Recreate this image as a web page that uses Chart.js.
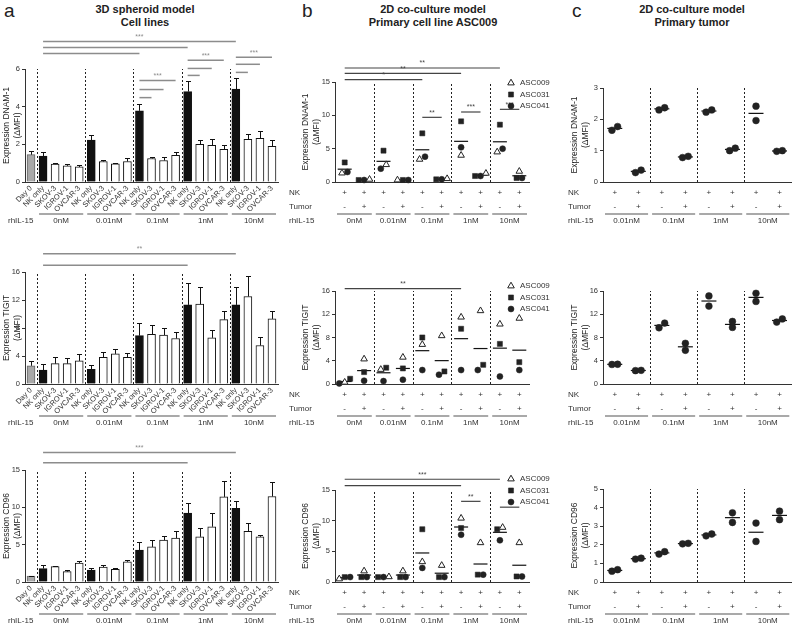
<!DOCTYPE html>
<html>
<head>
<meta charset="utf-8">
<title>DNAM-1, TIGIT and CD96 expression</title>
<script src="https://cdn.jsdelivr.net/npm/chart.js@4.4.1/dist/chart.umd.min.js"></script>
<style>
  body { margin: 0; background: #fff; }
  #fig { position: relative; width: 800px; height: 627px; overflow: hidden;
         font-family: "Liberation Sans", Arial, sans-serif; color: #222; }
  #fig canvas { position: absolute; }
  .letter { position: absolute; top: 0; font-size: 19px; }
  .title { position: absolute; top: 3px; width: 220px; text-align: center;
           font-weight: bold; font-size: 11px; line-height: 13px; }
</style>
</head>
<body>
<div id="fig">
  <div class="letter" style="left:4px">a</div>
  <div class="title" style="left:35px">3D spheroid model<br>Cell lines</div>
  <div class="letter" style="left:302px">b</div>
  <div class="title" style="left:323px">2D co-culture model<br>Primary cell line ASC009</div>
  <div class="letter" style="left:572px">c</div>
  <div class="title" style="left:582px">2D co-culture model<br>Primary tumor</div>
</div>
<script>
const FONT = '"Liberation Sans", Arial, sans-serif';
const INK = '#333';

// ---- panel a: 3D spheroids, cell lines (mean + SEM) ----
const cellLines = ['NK only', 'SKOV-3', 'IGROV-1', 'OVCAR-3'];
const dosesA = ['0nM', '0.01nM', '0.1nM', '1nM', '10nM'];
const barLabels = ['Day 0'].concat(...dosesA.map(() => cellLines));

const dnamMean = [1.45, 1.38, 0.95, 0.86, 0.80, 2.23, 1.09, 0.96, 1.09, 3.78, 1.25, 1.14, 1.41, 4.80, 2.00, 1.95, 1.73, 4.93, 2.27, 2.32, 1.90];
const dnamSem  = [0.18, 0.22, 0.08, 0.10, 0.10, 0.27, 0.08, 0.06, 0.20, 0.36, 0.08, 0.18, 0.18, 0.55, 0.22, 0.35, 0.24, 0.58, 0.26, 0.37, 0.35];
const tigitMean = [2.6, 2.0, 2.9, 2.9, 3.3, 2.1, 3.8, 4.3, 3.8, 6.9, 7.1, 7.0, 6.5, 11.3, 11.4, 6.6, 9.2, 11.3, 12.5, 5.5, 9.3];
const tigitSem  = [0.7, 0.9, 0.9, 0.8, 1.0, 0.6, 0.8, 0.7, 0.7, 1.8, 1.3, 1.0, 0.9, 3.1, 2.4, 1.1, 1.2, 2.5, 2.9, 1.2, 1.1];
const cd96Mean = [0.80, 1.80, 2.06, 1.39, 2.55, 1.60, 2.00, 1.70, 2.70, 4.26, 4.70, 5.60, 5.87, 9.24, 6.05, 7.40, 11.40, 9.87, 6.77, 6.05, 11.45];
const cd96Sem  = [0.05, 0.45, 0.10, 0.20, 0.30, 0.25, 0.30, 0.20, 0.20, 1.10, 0.90, 0.50, 0.90, 1.35, 1.20, 1.90, 2.10, 1.00, 1.10, 0.30, 1.90];

// significance brackets: [from category, to category, height in axis units, stars]
const dnamSigA = [[1, 17, 7.46, '***'], [1, 13, 7.14, ''], [1, 9, 6.82, ''],
  [9, 10, 4.48, ''], [9, 11, 4.91, ''], [9, 12, 5.39, '***'],
  [13, 14, 5.66, ''], [13, 15, 6.03, ''], [13, 16, 6.46, '***'],
  [17, 18, 5.82, ''], [17, 19, 6.25, ''], [17, 20, 6.62, '***']];
const tigitSigA = [[1, 17, 18.6, '**'], [1, 13, 16.95, '']];
const cd96SigA = [[1, 17, 17.35, '***'], [1, 13, 15.97, '']];

// ---- panel b: 2D co-culture, primary cell line (three donors) ----
const nkRowB = ['+', '+', '+', '+', '+', '+', '+', '+', '+', '+'];
const tumorRowB = ['-', '+', '-', '+', '-', '+', '-', '+', '-', '+'];
const donorsB = ['ASC009', 'ASC031', 'ASC041'];

const asc009Dnam = [1.34, 0.40, 2.6, 0.30, 3.4, 0.50, 4.0, 1.3, 4.5, 1.6];
const asc031Dnam = [2.93, 0.30, 4.7, 0.30, 7.3, 0.40, 9.1, 0.9, 8.6, 0.6];
const asc041Dnam = [1.50, 0.30, 2.0, 0.30, 3.8, 0.40, 5.2, 0.9, 5.0, 0.6];
const asc009Tigit = [0.3, 4.3, 2.5, 4.6, 6.8, 8.3, 11.5, 12.6, 10.3, 11.3];
const asc031Tigit = [0.9, 2.05, 2.8, 2.68, 8.0, 2.16, 9.5, 3.3, 6.9, 3.76];
const asc041Tigit = [0.1, 0.57, 0.5, 0.74, 2.4, 1.6, 2.4, 2.4, 1.3, 2.4];
const asc009Cd96 = [0.5, 1.8, 0.85, 1.8, 3.3, 2.7, 10.4, 6.4, 8.9, 6.4];
const asc031Cd96 = [0.8, 0.8, 0.8, 0.8, 8.6, 0.8, 8.8, 1.2, 8.6, 0.9];
const asc041Cd96 = [0.8, 0.8, 0.8, 0.8, 2.3, 0.8, 7.7, 1.2, 6.8, 0.9];

const dnamSigB = [[0, 8, 17.1, '**'], [0, 6, 16.3, '**'], [0, 4, 15.35, '*'],
  [4, 5, 9.7, '**'], [6, 7, 10.5, '***'], [8, 9, 10.9, '***']];
const tigitSigB = [[0, 6, 16.4, '**']];
const cd96SigB = [[0, 8, 16.75, '***'], [0, 6, 15.7, ''], [6, 7, 13.15, '**'], [8, 9, 12.2, '*']];

// ---- panel c: 2D co-culture, primary tumor (two donors) ----
const dosesC = ['0.01nM', '0.1nM', '1nM', '10nM'];
const nkRowC = ['+', '+', '+', '+', '+', '+', '+', '+'];
const tumorRowC = ['-', '+', '-', '+', '-', '+', '-', '+'];

const tumor1Dnam = [1.65, 0.30, 2.30, 0.78, 2.23, 1.00, 2.42, 0.98];
const tumor2Dnam = [1.77, 0.38, 2.37, 0.82, 2.30, 1.08, 1.96, 1.00];
const tumor1Tigit = [3.36, 2.30, 9.68, 7.0, 15.15, 10.76, 15.6, 10.65];
const tumor2Tigit = [3.40, 2.35, 10.48, 5.8, 13.4, 9.74, 14.2, 11.2];
const tumor1Cd96 = [0.58, 1.23, 1.50, 2.05, 2.48, 3.72, 3.17, 3.35];
const tumor2Cd96 = [0.66, 1.28, 1.63, 2.08, 2.58, 3.20, 2.18, 3.81];

// ---------------------------------------------------------------
const fig = document.getElementById('fig');

function addCanvas(x0, y0, w, h) {
  const c = document.createElement('canvas');
  c.width = w; c.height = h;
  c.style.left = x0 + 'px'; c.style.top = y0 + 'px';
  c.style.width = w + 'px'; c.style.height = h + 'px';
  fig.appendChild(c);
  return c;
}

function px(scale, i) {
  return scale.type === 'category' ? scale.getPixelForTick(i) : scale.getPixelForValue(i);
}

function symbol(ctx, ds, x, y) {
  ctx.fillStyle = ds.backgroundColor;
  ctx.strokeStyle = ds.borderColor;
  ctx.lineWidth = ds.borderWidth;
  Chart.helpers.drawPoint(ctx, { pointStyle: ds.pointStyle, radius: ds.pointRadius, borderWidth: ds.borderWidth, rotation: 0 }, x, y);
}

// separators, error bars, brackets, legend and the table under the x axis
function decor(o) {
  return {
    id: 'decor',
    afterDatasetsDraw(chart) {
      const { ctx, chartArea: a, scales: { x, y } } = chart;
      const slot = px(x, 1) - px(x, 0);
      ctx.save();

      if (o.sem) {
        const meta = chart.getDatasetMeta(0);
        ctx.strokeStyle = '#111'; ctx.lineWidth = 1;
        meta.data.forEach((el, i) => {
          const top = Math.round(y.getPixelForValue(o.mean[i] + o.sem[i])) + 0.5;
          const cx = Math.round(el.x) + 0.5;
          ctx.beginPath();
          ctx.moveTo(cx, el.y); ctx.lineTo(cx, top);
          ctx.moveTo(cx - 2.5, top); ctx.lineTo(cx + 2.5, top);
          ctx.stroke();
        });
      }

      ctx.strokeStyle = '#222'; ctx.lineWidth = 1; ctx.setLineDash([2, 2]);
      o.doses.forEach((d, g) => {
        const k = o.start + g * o.size;
        if (k === 0) return;
        const xx = Math.round(px(x, k) - slot / 2) + 0.5;
        ctx.beginPath(); ctx.moveTo(xx, a.bottom); ctx.lineTo(xx, a.top); ctx.stroke();
      });
      ctx.setLineDash([]);

      ctx.strokeStyle = o.sigColor; ctx.fillStyle = o.sigColor; ctx.lineWidth = o.sigWidth;
      ctx.font = '7px ' + FONT; ctx.textAlign = 'center'; ctx.textBaseline = 'bottom';
      o.sig.forEach(([i, j, h, stars]) => {
        const yy = y.getPixelForValue(h);
        ctx.beginPath(); ctx.moveTo(px(x, i), yy); ctx.lineTo(px(x, j), yy); ctx.stroke();
        if (stars) ctx.fillText(stars, (px(x, i) + px(x, j)) / 2, yy - 1);
      });

      ctx.font = '8px ' + FONT; ctx.fillStyle = INK; ctx.textBaseline = 'middle';
      o.rows.forEach(([label, vals], r) => {
        const yy = a.bottom + o.rowY0 + r * 14;
        ctx.textAlign = 'left'; ctx.fillText(label, o.labelX, yy);
        ctx.textAlign = 'center';
        vals.forEach((v, i) => ctx.fillText(v, px(x, i), yy));
      });
      const ry = a.bottom + o.rowY0 + o.rows.length * 14;
      ctx.textAlign = 'left'; ctx.fillText('rhIL-15', o.labelX, ry);
      ctx.textAlign = 'center'; ctx.strokeStyle = '#555'; ctx.lineWidth = 1.2;
      o.doses.forEach((d, g) => {
        const i0 = o.start + g * o.size, i1 = i0 + o.size - 1;
        const l = px(x, i0) - slot / 2 + 2, r = px(x, i1) + slot / 2 - 2;
        ctx.beginPath(); ctx.moveTo(l, ry - 7); ctx.lineTo(r, ry - 7); ctx.stroke();
        ctx.fillText(d, (l + r) / 2, ry);
      });

      if (o.legendX != null) {
        ctx.textAlign = 'left';
        chart.data.datasets.filter(ds => ds.label).forEach((ds, k) => {
          const ly = o.legendY + k * 11.5;
          symbol(ctx, ds, o.legendX, ly);
          ctx.fillStyle = INK;
          ctx.fillText(ds.label, o.legendX + 9, ly);
        });
      }
      ctx.restore();
    }
  };
}

function yAxis(max, step, title, width) {
  return {
    min: 0, max: max,
    ticks: { stepSize: step, font: { size: 7.5, family: FONT }, color: INK, padding: 2 },
    grid: { display: true, drawOnChartArea: false, drawTicks: true, tickLength: 3, color: INK },
    border: { display: true, color: INK },
    title: { display: true, text: [title, '(ΔMFI)'], font: { size: 8.5, family: FONT }, color: '#222', padding: 0 },
    afterFit: s => { s.width = width; }
  };
}

function barFill(l) { return l === 'Day 0' ? '#a8a8a8' : (l === 'NK only' ? '#111' : '#fff'); }

function barPanel(area, mean, sem, yMax, yStep, yTitle, sig) {
  const x0 = 0, w = 282, y0 = area.top - 42, h = area.bottom + 52 - y0;
  const yW = 23, xH = 30;
  new Chart(addCanvas(x0, y0, w, h), {
    type: 'bar',
    data: { labels: barLabels, datasets: [{
      data: mean, backgroundColor: barLabels.map(barFill),
      borderColor: barLabels.map(l => l === 'Day 0' ? '#666' : '#111'),
      borderWidth: 1, barThickness: 8 }] },
    options: {
      responsive: false, animation: false, events: [],
      layout: { padding: { left: area.left - x0 - yW, right: x0 + w - area.right, top: area.top - y0, bottom: y0 + h - area.bottom - xH } },
      plugins: { legend: { display: false }, tooltip: { enabled: false } },
      scales: {
        x: { grid: { display: false, drawTicks: false }, border: { color: INK },
             ticks: { autoSkip: false, minRotation: 45, maxRotation: 45, font: { size: 7.5, family: FONT }, color: INK, padding: 2 },
             afterFit: s => { s.height = xH; } },
        y: yAxis(yMax, yStep, yTitle, yW)
      }
    },
    plugins: [decor({ mean, sem, start: 1, size: 4, doses: dosesA, sig, sigColor: '#8c8c8c', sigWidth: 1.5,
                      rows: [], rowY0: 39, labelX: 8 - x0 })]
  });
}

// spread points with nearly equal values side by side
function jitter(series, thr, step) {
  const off = series.map(s => s.map(() => 0));
  series[0].forEach((_, i) => {
    const pts = series.map((s, k) => ({ k, v: s[i] })).sort((p, q) => p.v - q.v);
    let group = [pts[0]];
    const flush = () => group.forEach((p, j) => { off[p.k][i] = (j - (group.length - 1) / 2) * step; });
    for (let j = 1; j < pts.length; j++) {
      if (pts[j].v - pts[j - 1].v < thr) group.push(pts[j]);
      else { flush(); group = [pts[j]]; }
    }
    flush();
  });
  return off;
}

const markerB = [
  { pointStyle: 'triangle', pointRadius: 3.8, backgroundColor: '#fff', borderColor: '#222', borderWidth: 1 },
  { pointStyle: 'rect', pointRadius: 3.6, backgroundColor: '#222', borderColor: '#222', borderWidth: 0.5 },
  { pointStyle: 'circle', pointRadius: 3, backgroundColor: '#222', borderColor: '#222', borderWidth: 0.5 }
];
const markerC = { pointStyle: 'circle', pointRadius: 3.4, backgroundColor: '#222', borderColor: '#222', borderWidth: 0.5 };

function dotPanel(p) {
  const n = p.series[0].length;
  const y0 = p.area.top - 30, h = p.area.bottom + 52 - y0;
  const off = jitter(p.series, p.yMax * 0.06, p.step);
  const datasets = p.series.map((s, k) => Object.assign({
    label: p.labels ? p.labels[k] : undefined,
    data: s.map((v, i) => ({ x: i + off[k][i], y: v })),
    clip: false
  }, p.markers[k]));
  datasets.push({
    data: p.series[0].map((_, i) => ({ x: i, y: p.series.reduce((t, s) => t + s[i], 0) / p.series.length })),
    pointStyle: 'line', pointRadius: p.meanR, borderColor: '#111', borderWidth: 1.2, clip: false
  });
  new Chart(addCanvas(p.x0, y0, p.w, h), {
    type: 'scatter',
    data: { datasets },
    options: {
      responsive: false, animation: false, events: [],
      layout: { padding: { left: p.area.left - p.x0 - p.yW, right: p.x0 + p.w - p.area.right, top: p.area.top - y0, bottom: y0 + h - p.area.bottom } },
      plugins: { legend: { display: false }, tooltip: { enabled: false } },
      scales: {
        x: { type: 'linear', min: -0.5, max: n - 0.5, grid: { display: false }, ticks: { display: false },
             border: { color: INK }, afterFit: s => { s.height = 0; } },
        y: yAxis(p.yMax, p.yStep, p.yTitle, p.yW)
      }
    },
    plugins: [decor({ start: 0, size: 2, doses: p.doses, sig: p.sig || [], sigColor: '#444', sigWidth: 1.2,
                      rows: [['NK', p.nk], ['Tumor', p.tumor]], rowY0: 11, labelX: p.labelX - p.x0,
                      legendX: p.labels ? p.legendX - p.x0 : null, legendY: p.legendY - y0 })]
  });
}

// panel a
barPanel({ left: 25, right: 278, top: 69, bottom: 182 }, dnamMean, dnamSem, 6, 2, 'Expression DNAM-1', dnamSigA);
barPanel({ left: 25, right: 278, top: 272, bottom: 384 }, tigitMean, tigitSem, 16, 4, 'Expression TIGIT', tigitSigA);
barPanel({ left: 25, right: 278, top: 470, bottom: 582 }, cd96Mean, cd96Sem, 15, 5, 'Expression CD96', cd96SigA);

// panel b
const bBase = { x0: 280, w: 280, yW: 34, labelX: 289, legendX: 511, labels: donorsB, markers: markerB,
                doses: dosesA, nk: nkRowB, tumor: tumorRowB, meanR: 7, step: 0.28 };
dotPanel(Object.assign({}, bBase, { area: { left: 335, right: 529, top: 82, bottom: 182 }, legendY: 83,
  series: [asc009Dnam, asc031Dnam, asc041Dnam], yMax: 15, yStep: 5, yTitle: 'Expression DNAM-1', sig: dnamSigB }));
dotPanel(Object.assign({}, bBase, { area: { left: 335, right: 529, top: 291, bottom: 384 }, legendY: 286,
  series: [asc009Tigit, asc031Tigit, asc041Tigit], yMax: 16, yStep: 4, yTitle: 'Expression TIGIT', sig: tigitSigB }));
dotPanel(Object.assign({}, bBase, { area: { left: 335, right: 529, top: 490, bottom: 582 }, legendY: 479,
  series: [asc009Cd96, asc031Cd96, asc041Cd96], yMax: 15, yStep: 5, yTitle: 'Expression CD96', sig: cd96SigB }));

// panel c
const cBase = { x0: 556, w: 244, yW: 33, labelX: 568, markers: [markerC, markerC],
                doses: dosesC, nk: nkRowC, tumor: tumorRowC, meanR: 7.5, step: 0.24 };
dotPanel(Object.assign({}, cBase, { area: { left: 603, right: 798, top: 88, bottom: 182 },
  series: [tumor1Dnam, tumor2Dnam], yMax: 3, yStep: 1, yTitle: 'Expression DNAM-1' }));
dotPanel(Object.assign({}, cBase, { area: { left: 603, right: 798, top: 291, bottom: 384 },
  series: [tumor1Tigit, tumor2Tigit], yMax: 16, yStep: 4, yTitle: 'Expression TIGIT' }));
dotPanel(Object.assign({}, cBase, { area: { left: 603, right: 798, top: 489, bottom: 582 },
  series: [tumor1Cd96, tumor2Cd96], yMax: 5, yStep: 1, yTitle: 'Expression CD96' }));
</script>
</body>
</html>
